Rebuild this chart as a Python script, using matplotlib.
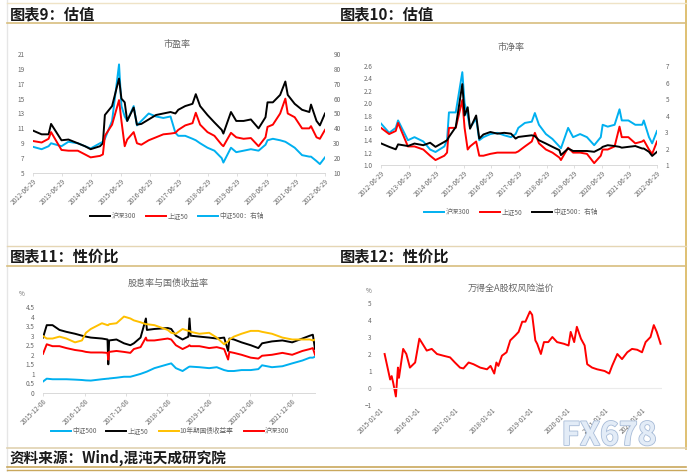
import matplotlib
matplotlib.use("Agg")
import matplotlib.pyplot as plt
import matplotlib.dates as mdates
import matplotlib.patheffects as pe
from matplotlib.lines import Line2D
import pandas as pd

plt.rcParams["font.family"] = ["Noto Sans CJK SC", "DejaVu Sans"]

# ── data: PE / PB (figures 9 and 10) ───────────────────────────────
val_dates = ["2012-06-29", "2012-10-15", "2013-01-10", "2013-02-10", "2013-06-20", "2013-09-15",
             "2014-01-10", "2014-04-10", "2014-06-20", "2014-10-15", "2014-11-20", "2014-12-15",
             "2015-03-15", "2015-06-10", "2015-07-10", "2015-08-20", "2015-09-20", "2015-12-10",
             "2016-01-20", "2016-03-15", "2016-06-15", "2016-09-15", "2016-12-15", "2017-03-15",
             "2017-05-15", "2017-06-20", "2017-09-15", "2017-12-15", "2018-01-25", "2018-03-20",
             "2018-06-20", "2018-09-15", "2018-12-15", "2019-01-05", "2019-04-10", "2019-06-15",
             "2019-09-15", "2019-12-15", "2020-03-20", "2020-06-15", "2020-07-10", "2020-09-15",
             "2020-12-15", "2021-02-18", "2021-03-20", "2021-06-15", "2021-09-15", "2021-12-15",
             "2022-01-05", "2022-03-15", "2022-04-26", "2022-06-29"]

hs300_pe = [10.7, 10.2, 10.2, 11.6, 9.4, 9.5, 9.0, 8.6, 8.2, 8.6, 9.0, 12.8,
            14.0, 17.7, 15.0, 14.5, 12.0, 13.8, 11.5, 11.6, 12.2, 12.8, 13.0, 13.2,
            13.0, 13.5, 14.0, 14.3, 15.6, 14.0, 12.8, 11.8, 10.8, 10.3, 13.2, 12.0,
            12.0, 12.2, 11.0, 12.5, 14.5, 14.5, 15.5, 17.3, 15.5, 14.3, 13.5, 13.2,
            14.2, 12.0, 11.4, 13.0]
sz50_pe = [9.3, 9.1, 9.6, 10.5, 8.1, 8.0, 8.0, 7.5, 7.1, 7.3, 7.5, 10.0,
           11.5, 14.8, 12.0, 8.6, 9.5, 10.5, 9.0, 8.8, 9.4, 9.8, 10.2, 10.3,
           10.4, 10.8, 11.4, 11.7, 13.1, 11.5, 10.5, 10.0, 8.8, 8.6, 10.4, 9.8,
           9.6, 9.7, 8.6, 9.8, 11.2, 11.5, 13.0, 15.0, 13.0, 12.5, 11.0, 11.0,
           11.3, 9.8, 9.6, 10.8]
zz500_pe = [27.6, 26, 28, 30, 28, 31, 30, 28, 26.5, 30, 31, 33,
            45, 83, 55, 48, 45, 55, 42, 45, 50, 48, 47, 48,
            37, 35, 35, 33, 32, 30, 27, 25, 20, 17, 27, 24,
            25, 26, 25, 29, 32, 33, 32, 31, 30, 27, 22, 21,
            21, 18, 16, 20.5]

hs300_pb = [1.67, 1.52, 1.60, 1.72, 1.40, 1.45, 1.38, 1.25, 1.21, 1.30, 1.40, 1.85,
            1.85, 2.50, 2.00, 1.80, 1.60, 1.75, 1.40, 1.45, 1.50, 1.52, 1.48, 1.45,
            1.50, 1.60, 1.68, 1.70, 1.84, 1.65, 1.50, 1.42, 1.30, 1.27, 1.60, 1.45,
            1.50, 1.45, 1.32, 1.45, 1.65, 1.62, 1.65, 1.90, 1.72, 1.72, 1.65, 1.65,
            1.72, 1.45, 1.35, 1.55]
sz50_pb = [1.60, 1.50, 1.55, 1.68, 1.30, 1.30, 1.25, 1.15, 1.08, 1.15, 1.20, 1.60,
           1.60, 2.05, 1.60, 1.25, 1.30, 1.38, 1.15, 1.15, 1.18, 1.20, 1.20, 1.20,
           1.20, 1.22, 1.30, 1.38, 1.52, 1.35, 1.25, 1.20, 1.12, 1.08, 1.28, 1.20,
           1.20, 1.18, 1.03, 1.15, 1.25, 1.25, 1.30, 1.62, 1.45, 1.45, 1.35, 1.38,
           1.40, 1.25, 1.18, 1.38]
zz500_pb = [2.31, 2.10, 1.95, 2.25, 2.15, 2.30, 2.20, 2.35, 2.10, 2.40, 2.50, 2.70,
            3.30, 5.90, 4.00, 4.50, 3.20, 4.00, 2.60, 2.85, 3.00, 2.90, 2.95, 2.90,
            2.60, 2.70, 2.75, 2.80, 2.75, 2.50, 2.30, 2.10, 1.90, 1.60, 2.00, 1.85,
            1.85, 1.85, 1.80, 2.00, 2.10, 2.20, 2.15, 2.10, 2.05, 2.10, 2.15, 2.00,
            2.00, 1.80, 1.55, 1.80]

# ── data: dividend yield vs bond yield (figure 11) ─────────────────
div_dates = ["2015-12-08", "2016-01-10", "2016-03-01", "2016-05-01", "2016-07-01", "2016-09-15",
             "2016-11-15", "2016-12-20", "2017-02-01", "2017-05-10", "2017-06-28", "2017-07-05",
             "2017-07-12", "2017-09-15", "2017-11-20", "2018-01-15", "2018-02-15", "2018-04-15",
             "2018-06-01", "2018-06-10", "2018-08-15", "2018-12-10", "2019-01-10", "2019-02-20",
             "2019-04-20", "2019-06-10", "2019-06-20", "2019-06-30", "2019-09-15", "2019-12-10",
             "2020-02-15", "2020-04-20", "2020-05-25", "2020-06-05", "2020-07-15", "2020-09-20",
             "2020-12-10", "2021-02-15", "2021-03-20", "2021-06-15", "2021-09-15", "2021-12-10",
             "2022-03-10", "2022-05-15", "2022-06-10", "2022-06-29"]
bond10y = [2.98, 2.85, 2.85, 2.95, 2.85, 2.65, 2.75, 3.15, 3.35, 3.65, 3.55, 3.55,
           3.60, 3.65, 4.00, 3.90, 3.80, 3.70, 3.60, 3.60, 3.55, 3.30, 3.15, 3.10,
           3.35, 3.25, 3.25, 3.20, 3.10, 3.15, 2.90, 2.55, 2.70, 2.80, 2.95, 3.10,
           3.25, 3.25, 3.20, 3.10, 2.90, 2.80, 2.80, 2.80, 2.75, 2.80]
sz50_dy = [2.90, 3.55, 3.55, 3.30, 3.20, 3.10, 3.00, 2.95, 2.90, 2.85, 2.80, 1.50,
           2.75, 2.80, 2.60, 2.50, 2.60, 2.90, 3.90, 3.30, 3.35, 3.40, 3.35, 3.00,
           2.80, 2.95, 3.90, 3.00, 2.95, 2.90, 2.85, 2.90, 2.20, 2.85, 2.80, 2.65,
           2.50, 2.35, 2.60, 2.70, 2.75, 2.65, 2.85, 3.00, 3.05, 2.30]
hs300_dy = [2.05, 2.55, 2.45, 2.45, 2.35, 2.25, 2.20, 2.15, 2.12, 2.12, 2.10, 1.75,
            2.15, 2.20, 2.15, 2.10, 2.30, 2.40, 2.90, 2.75, 2.75, 2.85, 2.80, 2.50,
            2.30, 2.45, 2.50, 2.45, 2.45, 2.35, 2.40, 2.30, 1.75, 2.15, 2.10, 2.00,
            1.85, 1.80, 1.95, 2.00, 2.10, 2.00, 2.20, 2.30, 2.35, 2.00]
zz500_dy = [0.60, 0.75, 0.72, 0.72, 0.72, 0.70, 0.68, 0.66, 0.65, 0.72, 0.75, 0.75,
            0.76, 0.80, 0.85, 0.85, 0.90, 1.00, 1.10, 1.12, 1.30, 1.50, 1.55, 1.30,
            1.15, 1.35, 1.38, 1.38, 1.35, 1.30, 1.35, 1.20, 1.15, 1.15, 1.15, 1.20,
            1.20, 1.25, 1.45, 1.35, 1.40, 1.55, 1.70, 1.85, 1.85, 1.90]

# ── data: Wind All-A equity risk premium (figure 12) ───────────────
erp_dates = ["2015-02-15", "2015-04-10", "2015-04-25", "2015-05-10", "2015-06-05", "2015-06-25",
             "2015-07-05", "2015-08-15", "2015-09-15", "2015-10-20", "2015-12-10", "2016-01-20",
             "2016-02-20", "2016-04-01", "2016-05-20", "2016-07-10", "2016-09-10", "2016-11-15",
             "2017-01-01", "2017-02-20", "2017-03-25", "2017-05-15", "2017-07-01", "2017-09-05",
             "2017-11-10", "2017-12-15", "2018-01-20", "2018-02-10", "2018-03-01", "2018-04-05",
             "2018-05-20", "2018-06-25", "2018-08-15", "2018-09-15", "2018-10-20", "2018-11-20",
             "2019-01-03", "2019-01-25", "2019-02-25", "2019-03-15", "2019-04-20", "2019-05-20",
             "2019-07-01", "2019-08-10", "2019-09-25", "2019-12-01", "2020-01-15", "2020-02-05",
             "2020-03-10", "2020-04-05", "2020-05-15", "2020-06-20", "2020-07-15", "2020-09-01",
             "2020-10-20", "2021-01-01", "2021-02-15", "2021-03-15", "2021-05-05", "2021-06-20",
             "2021-08-10", "2021-09-25", "2021-11-15", "2022-01-01", "2022-02-05", "2022-03-25",
             "2022-04-26", "2022-05-25", "2022-07-01"]
erp = [2.0, 0.5, 0.7, 0.3, -0.5, 1.2, 0.6, 2.3, 2.0, 1.2, 1.5, 2.9,
       2.6, 2.2, 2.3, 2.0, 1.9, 1.8, 1.5, 1.2, 1.15, 1.5, 1.4, 1.2,
       1.1, 1.3, 0.85, 1.5, 1.3, 1.9, 2.1, 2.8, 3.1, 3.3, 3.9, 3.9,
       4.5, 4.3, 2.8, 2.6, 2.0, 2.7, 2.7, 3.0, 2.7, 2.6, 2.5, 3.3,
       2.7, 3.6, 2.9, 2.5, 1.4, 1.2, 1.1, 1.0, 0.85, 1.3, 2.0, 1.7,
       2.1, 2.3, 2.25, 2.1, 2.7, 3.0, 3.7, 3.3, 2.6]

BLACK, RED, BLUE, GOLD = "#000000", "#FF0000", "#00B0F0", "#FFC000"
GREY_TXT = "#666666"
AX_LINE = "#D9D9D9"
W, H = 688, 472


def box(x0, y0, x1, y1):
    # pixel box (top-left origin) -> figure fraction rect
    return [x0 / W, 1 - y1 / H, (x1 - x0) / W, (y1 - y0) / H]


def hline(fig, y, x0, x1, color, lw):
    fig.add_artist(Line2D([x0 / W, x1 / W], [1 - y / H, 1 - y / H], color=color, lw=lw,
                          transform=fig.transFigure))


def vline(fig, x, y0, y1, color, lw):
    fig.add_artist(Line2D([x / W, x / W], [1 - y0 / H, 1 - y1 / H], color=color, lw=lw,
                          transform=fig.transFigure))


def style_axis(ax, tick_dates, fmt):
    for s in ("top", "left", "right"):
        ax.spines[s].set_visible(False)
    ax.spines["bottom"].set_color(AX_LINE)
    ax.spines["bottom"].set_linewidth(0.7)
    ax.set_xticks(pd.to_datetime(tick_dates))
    ax.xaxis.set_major_formatter(mdates.DateFormatter(fmt))
    ax.tick_params(axis="x", colors=AX_LINE, labelcolor=GREY_TXT, labelsize=4.6,
                   length=2, width=0.6, labelrotation=45, pad=1)
    for lab in ax.get_xticklabels():
        lab.set_ha("right")
        lab.set_rotation_mode("anchor")
    ax.tick_params(axis="y", length=0, labelcolor=GREY_TXT, labelsize=4.6, pad=6)
    ax.set_facecolor("none")


fig = plt.figure(figsize=(6.88, 4.72), dpi=100)

# ── page frame ────────────────────────────────────────────────────
vline(fig, 7, 0, 472, "#E6E6E6", 1.0)
vline(fig, 686, 0, 449, "#D9B55A", 1.2)
hline(fig, 3, 7, 686, "#EFE3C6", 1.0)
hline(fig, 23, 7, 686, "#D8BE7E", 1.2)
hline(fig, 246, 7, 686, "#E5D6B4", 1.0)
hline(fig, 266, 7, 686, "#D8BE7E", 1.2)
hline(fig, 448, 7, 686, "#E0D2B0", 1.2)
hline(fig, 467, 7, 686, "#C9A85C", 1.2)
hline(fig, 470, 7, 686, "#C9A85C", 1.0)

head = dict(fontsize=11, fontweight="bold", color="#1A1A1A", va="center", ha="left")
fig.text(10 / W, 1 - 14 / H, "图表9：估值", **head)
fig.text(340 / W, 1 - 14 / H, "图表10：估值", **head)
fig.text(10 / W, 1 - 256 / H, "图表11：性价比", **head)
fig.text(340 / W, 1 - 256 / H, "图表12：性价比", **head)
fig.text(10 / W, 1 - 458 / H, "资料来源：Wind,混沌天成研究院", fontsize=10.5,
         fontweight="bold", style="italic", color="#1A1A1A", va="center", ha="left")

lw = 1.4
yearly_0629 = [f"{y}-06-29" for y in range(2012, 2023)]

# ── figure 9: PE ──────────────────────────────────────────────────
d9 = pd.to_datetime(val_dates)
ax9 = fig.add_axes(box(33, 54, 325, 173))
ax9r = ax9.twinx()
l1, = ax9.plot(d9, hs300_pe, color=BLACK, lw=lw, label="沪深300")
l2, = ax9.plot(d9, sz50_pe, color=RED, lw=lw, label="上证50")
l3, = ax9r.plot(d9, zz500_pe, color=BLUE, lw=lw, label="中证500：右轴")
ax9.set_ylim(5, 21)
ax9.set_yticks(range(5, 22, 2))
ax9r.set_ylim(10, 90)
ax9r.set_yticks(range(10, 91, 10))
ax9.set_xlim(d9[0], d9[-1])
style_axis(ax9, yearly_0629, "%Y-%m-%d")
for s in ax9r.spines.values():
    s.set_visible(False)
ax9r.tick_params(axis="y", length=0, labelcolor=GREY_TXT, labelsize=4.6, pad=6)
ax9.set_zorder(ax9r.get_zorder() + 1)
fig.text(177 / W, 1 - 44 / H, "市盈率", fontsize=6.5, color=GREY_TXT, ha="center", va="center")
fig.legend(handles=[l1, l2, l3], loc="center", bbox_to_anchor=(177 / W, 1 - 216 / H), ncol=3,
           frameon=False, fontsize=4.8, handlelength=3, columnspacing=1.5, handletextpad=0.2,
           labelcolor=GREY_TXT)

# ── figure 10: PB ─────────────────────────────────────────────────
ax10 = fig.add_axes(box(381, 66, 657, 165))
ax10r = ax10.twinx()
m1, = ax10.plot(d9, hs300_pb, color=BLUE, lw=lw, label="沪深300")
m2, = ax10.plot(d9, sz50_pb, color=RED, lw=lw, label="上证50")
m3, = ax10r.plot(d9, zz500_pb, color=BLACK, lw=lw, label="中证500：右轴")
ax10.set_ylim(1.0, 2.6)
ax10.set_yticks([1.0 + 0.2 * i for i in range(9)])
ax10.yaxis.set_major_formatter(matplotlib.ticker.FormatStrFormatter("%.1f"))
ax10r.set_ylim(1, 7)
ax10r.set_yticks(range(1, 8))
ax10.set_xlim(d9[0], d9[-1])
style_axis(ax10, yearly_0629, "%Y-%m-%d")
for s in ax10r.spines.values():
    s.set_visible(False)
ax10r.tick_params(axis="y", length=0, labelcolor=GREY_TXT, labelsize=4.6, pad=6)
fig.text(511 / W, 1 - 47 / H, "市净率", fontsize=6.5, color=GREY_TXT, ha="center", va="center")
fig.legend(handles=[m1, m2, m3], loc="center", bbox_to_anchor=(511 / W, 1 - 212 / H), ncol=3,
           frameon=False, fontsize=4.8, handlelength=3, columnspacing=1.5, handletextpad=0.2,
           labelcolor=GREY_TXT)

# ── figure 11: dividend yield ─────────────────────────────────────
d11 = pd.to_datetime(div_dates)
ax11 = fig.add_axes(box(43, 307, 315, 393))
n1, = ax11.plot(d11, zz500_dy, color=BLUE, lw=lw, label="中证500")
n2, = ax11.plot(d11, sz50_dy, color=BLACK, lw=lw, label="上证50")
n3, = ax11.plot(d11, bond10y, color=GOLD, lw=lw, label="10年期国债收益率")
n4, = ax11.plot(d11, hs300_dy, color=RED, lw=lw, label="沪深300")
ax11.set_ylim(0, 4.5)
ax11.set_yticks([0.5 * i for i in range(10)])
ax11.set_yticklabels([f"{0.5 * i:g}" for i in range(10)])
ax11.set_xlim(d11[0], d11[-1])
style_axis(ax11, [f"{y}-12-08" for y in range(2015, 2022)], "%Y-%m-%d")
ax11.text(-0.09, 1.13, "%", transform=ax11.transAxes, fontsize=4.6, color=GREY_TXT)
fig.text(168 / W, 1 - 283 / H, "股息率与国债收益率", fontsize=6.5, color=GREY_TXT,
         ha="center", va="center")
fig.legend(handles=[n1, n2, n3, n4], loc="center", bbox_to_anchor=(170 / W, 1 - 431 / H),
           ncol=4, frameon=False, fontsize=4.8, handlelength=3, columnspacing=1.5,
           handletextpad=0.2, labelcolor=GREY_TXT)

# ── figure 12: equity risk premium ────────────────────────────────
d12 = pd.to_datetime(erp_dates)
ax12 = fig.add_axes(box(380, 303, 662, 405))
ax12.plot(d12, erp, color=RED, lw=lw)
ax12.axhline(0, color="#EBEBEB", lw=0.8)
ax12.set_ylim(-1, 5)
ax12.set_yticks(range(-1, 6))
ax12.set_xlim(pd.Timestamp("2015-01-01"), pd.Timestamp("2022-07-15"))
style_axis(ax12, [f"{y}-01-01" for y in range(2015, 2023)], "%Y-%m-%d")
ax12.spines["bottom"].set_visible(False)
ax12.tick_params(axis="x", length=0)
ax12.text(-0.05, 1.1, "%", transform=ax12.transAxes, fontsize=4.6, color=GREY_TXT)
fig.text(511 / W, 1 - 288 / H, "万得全A股权风险溢价", fontsize=6.5, color=GREY_TXT,
         ha="center", va="center")

# watermark
fig.text(609 / W, 1 - 436 / H, "FX678", fontsize=23, fontweight="bold", color="#E3ECF7",
         ha="center", va="center",
         path_effects=[pe.withStroke(linewidth=1.2, foreground="#A8BCD8")])

fig.savefig("out.png", dpi=100)
